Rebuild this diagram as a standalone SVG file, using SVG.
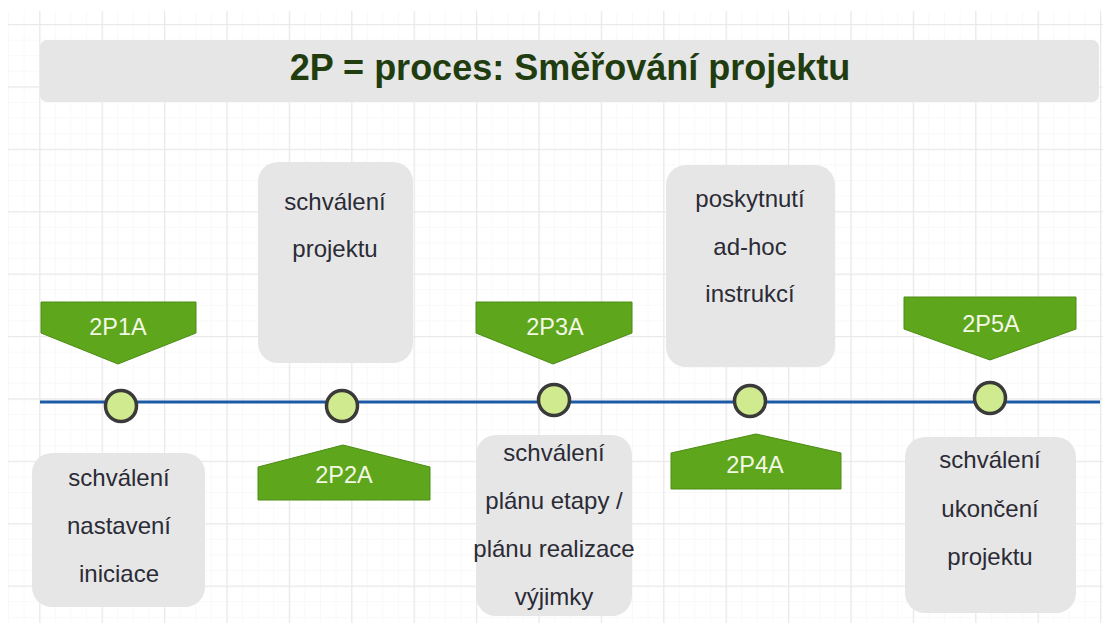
<svg xmlns="http://www.w3.org/2000/svg" width="1107" height="641" viewBox="0 0 1107 641">
  <style>
    .title { font-family: "Liberation Sans", Arial, sans-serif; font-size: 36px; font-weight: bold; fill: #213d10; text-anchor: middle; }
    .card { fill: #e6e6e6; }
    .card-text { font-family: "Liberation Sans", Arial, sans-serif; font-size: 24px; fill: #2b2b36; text-anchor: middle; }
    .tag { fill: #5ea61c; stroke: #4c8c14; stroke-width: 1; }
    .tag-text { font-family: "Liberation Sans", Arial, sans-serif; font-size: 23.5px; fill: #f3f8e6; text-anchor: middle; }
    .milestone { fill: #d0eb8f; stroke: #3a3a3a; stroke-width: 3.5; }
    .timeline { stroke: #1d5aa6; stroke-width: 3; fill: none; }
  </style>
  <defs>
    <pattern id="gridMinor" x="8" y="8.4" width="15.6" height="15.6" patternUnits="userSpaceOnUse">
      <path d="M0 0 V15.6 M0 0 H15.6" stroke="#f3f3f3" stroke-width="1" fill="none"/>
    </pattern>
    <pattern id="gridMajor" x="39.2" y="24" width="62.4" height="62.4" patternUnits="userSpaceOnUse">
      <path d="M0.5 0 V62.4 M0 0.5 H62.4" stroke="#e9e9e9" stroke-width="1.5" fill="none"/>
    </pattern>
  </defs>

  <!-- background with drawing grid -->
  <rect x="0" y="0" width="1107" height="641" fill="#ffffff"/>
  <rect x="8" y="11" width="1095" height="612" fill="url(#gridMinor)"/>
  <rect x="8" y="11" width="1095" height="612" fill="url(#gridMajor)"/>

  <!-- title banner -->
  <g id="title">
    <rect x="40" y="40" width="1059" height="62" rx="7" class="card"/>
    <text x="570" y="80" class="title">2P = proces: Směřování projektu</text>
  </g>

  <!-- timeline axis -->
  <g id="connectors">
    <line x1="40" y1="402" x2="1100" y2="402" class="timeline"/>
  </g>

  <!-- milestones on the axis -->
  <g id="milestone-1"><circle cx="121" cy="406" r="15.5" class="milestone"/></g>
  <g id="milestone-2"><circle cx="342" cy="406" r="15.5" class="milestone"/></g>
  <g id="milestone-3"><circle cx="554" cy="400" r="15.5" class="milestone"/></g>
  <g id="milestone-4"><circle cx="750" cy="401" r="15.5" class="milestone"/></g>
  <g id="milestone-5"><circle cx="990" cy="398" r="15.5" class="milestone"/></g>

  <!-- activity tags -->
  <g id="tag-2P1A">
    <polygon points="41,302 196,302 196,333 118,364 41,333" class="tag"/>
    <text x="118" y="335" class="tag-text">2P1A</text>
  </g>
  <g id="tag-2P2A">
    <polygon points="258,500 430,500 430,467 343,445 258,467" class="tag"/>
    <text x="344" y="483" class="tag-text">2P2A</text>
  </g>
  <g id="tag-2P3A">
    <polygon points="476,302 632,302 632,333 553,364 476,333" class="tag"/>
    <text x="555" y="335" class="tag-text">2P3A</text>
  </g>
  <g id="tag-2P4A">
    <polygon points="671,489 841,489 841,453 756,434 671,453" class="tag"/>
    <text x="755" y="473" class="tag-text">2P4A</text>
  </g>
  <g id="tag-2P5A">
    <polygon points="904,297 1076,297 1076,329 990,360 904,329" class="tag"/>
    <text x="991" y="332" class="tag-text">2P5A</text>
  </g>

  <!-- decision cards -->
  <g id="card-nastaveni">
    <rect x="32" y="453" width="173" height="154" rx="20" class="card"/>
    <text class="card-text"><tspan x="119" y="486">schválení</tspan><tspan x="119" y="534">nastavení</tspan><tspan x="119" y="582">iniciace</tspan></text>
  </g>
  <g id="card-projekt">
    <rect x="258" y="162" width="155" height="201" rx="20" class="card"/>
    <text class="card-text"><tspan x="335" y="210">schválení</tspan><tspan x="335" y="257">projektu</tspan></text>
  </g>
  <g id="card-etapa">
    <rect x="476" y="435" width="156" height="181" rx="20" class="card"/>
    <text class="card-text"><tspan x="554" y="461">schválení</tspan><tspan x="554" y="509">plánu etapy /</tspan><tspan x="554" y="557">plánu realizace</tspan><tspan x="554" y="605">výjimky</tspan></text>
  </g>
  <g id="card-instrukce">
    <rect x="666" y="165" width="169" height="202" rx="20" class="card"/>
    <text class="card-text"><tspan x="750" y="207">poskytnutí</tspan><tspan x="750" y="255">ad-hoc</tspan><tspan x="750" y="302">instrukcí</tspan></text>
  </g>
  <g id="card-ukonceni">
    <rect x="905" y="437" width="171" height="176" rx="20" class="card"/>
    <text class="card-text"><tspan x="990" y="468">schválení</tspan><tspan x="990" y="517">ukončení</tspan><tspan x="990" y="565">projektu</tspan></text>
  </g>
</svg>
